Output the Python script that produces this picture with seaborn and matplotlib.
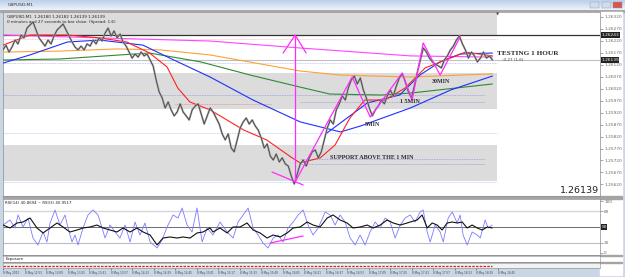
import numpy as np
import pandas as pd
import matplotlib.pyplot as plt
import seaborn as sns
from matplotlib.colors import LinearSegmentedColormap

sns.set_theme(style="white")
plt.rcParams['font.family'] = ['DejaVu Sans']

price = [
    1.26181, 1.26201, 1.26172, 1.26193, 1.26222, 1.26206, 1.26243, 1.26231, 1.26272, 1.26285,
    1.26297, 1.26264, 1.26231, 1.26214, 1.26197, 1.26222, 1.26206, 1.26239, 1.26264, 1.26276,
    1.26289, 1.26264, 1.26239, 1.26214, 1.26193, 1.26181, 1.26197, 1.26181, 1.26206, 1.26197,
    1.26222, 1.26206, 1.26231, 1.26218, 1.26251, 1.26272, 1.26239, 1.26260, 1.26231, 1.26247,
    1.26214, 1.26197, 1.26172, 1.26147, 1.26164, 1.26151, 1.26172, 1.26156, 1.26164, 1.26139,
    1.26114, 1.26056, 1.26006, 1.25981, 1.25939, 1.25964, 1.25931, 1.25906, 1.25922, 1.25956,
    1.25922, 1.25906, 1.25889, 1.25931, 1.25947, 1.25956, 1.25914, 1.25872, 1.25906, 1.25939,
    1.25922, 1.25897, 1.25872, 1.25831, 1.25806, 1.25831, 1.25772, 1.25756, 1.25806, 1.25856,
    1.25881, 1.25897, 1.25872, 1.25889, 1.25864, 1.25847, 1.25814, 1.25772, 1.25789, 1.25739,
    1.25722, 1.25747, 1.25714, 1.25731, 1.25706, 1.25697, 1.25656, 1.25622, 1.25664, 1.25706,
    1.25722, 1.25697, 1.25731, 1.25756, 1.25764, 1.25731, 1.25756, 1.25806, 1.25856, 1.25889,
    1.25872, 1.25931, 1.25956, 1.25989, 1.25972, 1.26022, 1.26056, 1.26072, 1.26039, 1.26064,
    1.26014, 1.25981, 1.25939, 1.25906, 1.25931, 1.25947, 1.25972, 1.25956, 1.25989, 1.26014,
    1.25989, 1.26031, 1.26064, 1.26081, 1.26047, 1.26006, 1.25981, 1.26031, 1.26089, 1.26139,
    1.26189, 1.26172, 1.26147, 1.26131, 1.26122, 1.26114, 1.26106, 1.26139, 1.26156, 1.26181,
    1.26197, 1.26222, 1.26239, 1.26206, 1.26181, 1.26147, 1.26172, 1.26156, 1.26131, 1.26147,
    1.26172, 1.26147, 1.26156, 1.26139,
]
price_min = np.linspace(0, 364, len(price))  # minutes after 12:37

# moving averages (minute, price)
ma_magenta_t = [0, 72, 154, 221, 303, 364]
ma_magenta_v = [1.26243, 1.26231, 1.26218, 1.26189, 1.26156, 1.26151]
ma_orange_t = [0, 42, 85, 117, 154, 221, 251, 303, 364]
ma_orange_v = [1.26172, 1.26176, 1.26185, 1.26181, 1.26160, 1.26093, 1.26076, 1.26068, 1.26081]
ma_green_t = [0, 42, 87, 109, 147, 184, 221, 243, 281, 303, 364]
ma_green_v = [1.26139, 1.26143, 1.26160, 1.26168, 1.26131, 1.26076, 1.26026, 1.25997, 1.25993, 1.26001, 1.26039]
ma_blue_t = [0, 20, 48, 72, 104, 124, 154, 186, 221, 251, 266, 303, 333, 364]
ma_blue_v = [1.26126, 1.26160, 1.26214, 1.26222, 1.26201, 1.26147, 1.26068, 1.25972, 1.25881, 1.25839,
             1.25864, 1.25939, 1.26014, 1.26072]
ma_fast_t = [241, 271, 295, 310, 325, 340, 364]
ma_fast_v = [1.25835, 1.25960, 1.25993, 1.26076, 1.26131, 1.26164, 1.26168]
ma_red_t = [0, 20, 48, 72, 92, 109, 122, 130, 139, 154, 179, 196, 214, 221, 236, 247, 258, 269, 284,
            299, 314, 329, 344, 364]
ma_red_v = [1.26201, 1.26243, 1.26243, 1.26231, 1.26214, 1.26168, 1.26110, 1.26022, 1.25964, 1.25931,
            1.25847, 1.25806, 1.25735, 1.25710, 1.25731, 1.25785, 1.25897, 1.25972, 1.25972, 1.26022,
            1.26106, 1.26139, 1.26172, 1.26156]

# zones and levels
zones = [(1.26243, 1.26339), (1.25935, 1.26085), (1.25635, 1.25785)]
zone_end = 367.6
black_level = 1.26243
bid = 1.26139
dotted_levels = [1.26226, 1.26126, 1.25993, 1.25835, 1.25631]
dotted_colors = ['#ffb4b4', '#b8b8f0', '#9a9ae6', '#b0c4f0', '#b0c4f0']
dotted_ends = [367.6, 367.6, 358.6, 367.6, 367.6]
support_levels = [1.25964, 1.25726, 1.25706]

# magenta drawings
arrow_t = [217.3, 217.3]
arrow_v = [1.25631, 1.26243]
wing_t = [208.3, 217.3, 225.4]
wing_v = [1.26168, 1.26243, 1.26168]
low_t = [200.1, 223.2]
low_v = [1.25672, 1.25618]
zig_t = [217.3, 259.7, 273.1, 296.9, 304.3, 312.5, 325.1, 340.0]
zig_v = [1.25631, 1.26068, 1.25901, 1.26085, 1.25972, 1.26210, 1.26076, 1.26235]

price_ticks = [1.26320, 1.26270, 1.26220, 1.26170, 1.26120, 1.26070, 1.26020, 1.25970,
               1.25920, 1.25870, 1.25820, 1.25770, 1.25720, 1.25670, 1.25620]

# RSI(3) (blue) and RSI(14) (black)
rsi3_t = [0, 5.2, 8.9, 11.2, 14.9, 18.6, 22.3, 26.0, 29.8, 32.7, 35.0, 38.7, 42.4, 46.1, 48.4, 51.3,
          53.6, 55.8, 59.5, 63.2, 67.0, 70.7, 73.7, 75.9, 79.6, 83.3, 87.0, 90.8, 94.5, 98.2, 101.9,
          105.6, 109.4, 114.6, 118.3, 122.0, 126.5, 130.2, 133.2, 136.9, 140.6, 144.3, 148.1, 151.8,
          156.2, 161.4, 166.7, 171.1, 174.8, 178.6, 182.3, 186.0, 189.7, 193.4, 197.2, 200.9, 204.6,
          208.3, 212.0, 215.8, 219.5, 223.2, 226.9, 230.6, 234.4, 239.6, 243.3, 247.0, 250.7, 254.4,
          258.2, 261.9, 265.6, 269.3, 273.0, 276.8, 280.5, 284.2, 287.9, 291.6, 295.4, 299.1, 302.8,
          306.5, 310.2, 312.5, 315.5, 317.7, 321.4, 325.1, 327.4, 331.1, 334.1, 337.8, 340.0, 342.2,
          345.2, 348.9, 352.7, 354.9, 358.6, 360.8, 363.8]
rsi3_v = [53.8, 63.5, 48.1, 73.1, 50.0, 67.3, 28.8, 15.4, 40.4, 21.2, 57.7, 82.7, 53.8, 73.1, 48.1, 21.2,
          34.6, 15.4, 48.1, 73.1, 82.7, 73.1, 48.1, 28.8, 53.8, 40.4, 28.8, 53.8, 21.2, 59.6, 34.6,
          57.7, 21.2, 9.6, 25.0, 50.0, 73.1, 67.3, 86.5, 53.8, 40.4, 86.5, 21.2, 48.1,
          34.6, 59.6, 40.4, 28.8, 59.6, 73.1, 86.5, 48.1, 34.6, 19.2, 9.6, 28.8, 34.6,
          21.2, 48.1, 59.6, 73.1, 82.7, 53.8, 34.6, 48.1, 78.8, 73.1, 53.8, 73.1, 59.6,
          28.8, 15.4, 34.6, 15.4, 40.4, 59.6, 48.1, 67.3, 59.6, 28.8, 53.8, 67.3, 73.1,
          59.6, 78.8, 82.7, 40.4, 21.2, 53.8, 40.4, 21.2, 67.3, 78.8, 57.7, 73.1, 34.6,
          15.4, 40.4, 34.6, 28.8, 63.5, 48.1, 53.8]
rsi14_t = [0, 5.2, 10.4, 14.9, 20.1, 25.3, 29.8, 35.0, 40.2, 44.6, 49.8, 55.1, 59.5, 64.7, 69.9, 74.4,
           79.6, 84.8, 89.3, 94.5, 99.7, 104.2, 109.4, 114.6, 119.0, 124.2, 129.5, 133.9, 139.1, 144.3,
           148.8, 154.0, 156.2, 161.4, 166.7, 171.1, 176.3, 181.5, 186.0, 191.2, 196.4, 200.9, 206.1,
           211.3, 215.8, 221.0, 226.2, 230.6, 235.8, 241.1, 245.5, 250.7, 255.9, 260.4, 265.6, 270.8,
           275.3, 280.5, 285.7, 290.2, 295.4, 300.6, 302.8, 308.0, 311.7, 315.5, 319.2, 322.9, 326.6,
           330.3, 334.1, 337.8, 341.5, 345.2, 348.9, 352.7, 356.4, 360.1, 363.8]
rsi14_v = [53.8, 48.1, 57.7, 59.6, 67.3, 48.1, 38.5, 48.1, 57.7, 50.0, 40.4, 44.2, 48.1, 50.0, 53.8, 48.1,
           44.2, 40.4, 48.1, 40.4, 48.1, 40.4, 34.6, 15.4, 28.8, 30.8, 28.8, 30.8, 28.8, 38.5,
           40.4, 48.1, 40.4, 48.1, 38.5, 50.0, 50.0, 57.7, 44.2, 38.5, 28.8, 34.6, 30.8,
           38.5, 48.1, 50.0, 59.6, 53.8, 50.0, 67.3, 73.1, 63.5, 57.7, 48.1, 50.0, 53.8,
           48.1, 53.8, 63.5, 57.7, 53.8, 57.7, 59.6, 63.5, 73.1, 48.1, 57.7, 53.8, 44.2,
           57.7, 59.6, 57.7, 59.6, 48.1, 53.8, 48.1, 44.2, 50.0, 48.1]
rsi_levels = [80, 50, 20]
rsi_ticks = [100, 80, 20, 0]
rsi_div_t = [198.7, 223.2]
rsi_div_v = [19.2, 32.7]

time_ticks = [0, 16, 32, 48, 64, 80, 96, 112, 128, 144, 160, 176, 192, 208, 224, 240, 256, 272,
              288, 304, 320, 336, 352, 368]
time_labels = ['8 May 2023', '8 May 12:53', '8 May 13:09', '8 May 13:25', '8 May 13:41', '8 May 13:57',
               '8 May 14:13', '8 May 14:29', '8 May 14:45', '8 May 15:01', '8 May 15:17', '8 May 15:33',
               '8 May 15:49', '8 May 16:05', '8 May 16:21', '8 May 16:37', '8 May 16:53', '8 May 17:09',
               '8 May 17:25', '8 May 17:41', '8 May 17:57', '8 May 18:13', '8 May 18:29', '8 May 18:45']

W, H = 625, 277
XMAX = 444


def box(x0, y0, x1, y1):
    return [x0 / W, 1 - y1 / H, (x1 - x0) / W, (y1 - y0) / H]


def strip(x0, y0, x1, y1, color):
    fig.patches.append(plt.Rectangle((x0 / W, 1 - y1 / H), (x1 - x0) / W, (y1 - y0) / H,
                                     transform=fig.transFigure, color=color, zorder=-1))


def line(ax, t, v, color, lw, z=3, ls='-'):
    sns.lineplot(x=t, y=v, ax=ax, color=color, linewidth=lw, linestyle=ls,
                 estimator=None, sort=False, legend=False, zorder=z)


fig = plt.figure(figsize=(W / 100, H / 100), dpi=100, facecolor='#c9d6e6')
strip(0, 10, 625, 12, '#a8a8a8')
strip(600, 12, 622, 275, 'white')
strip(3, 196, 622, 199, '#a4a4a4')
strip(3, 255, 622, 256, '#a4a4a4')
strip(3, 262, 622, 263, '#a4a4a4')

# window title bar
bar = fig.add_axes(box(0, 0, 625, 10))
grad = LinearSegmentedColormap.from_list('tb', ['#bcd0e8', '#eef3fa'])
bar.imshow(np.linspace(0, 1, 20).reshape(-1, 1), aspect='auto', cmap=grad, extent=[0, 1, 0, 1])
bar.set_xlim(0, 1)
bar.set_ylim(0, 1)
bar.set_axis_off()
bar.text(0.012, 0.5, 'GBPUSD,M1', fontsize=3.2, va='center', color='#333333')
for bx, bc in [(590, '#cfdcec'), (602, '#cfdcec'), (613, '#d9534f')]:
    bar.add_patch(plt.Rectangle((bx / W, 0.2), 9 / W, 0.6, fc=bc, ec='#8899aa', lw=0.3))

# main price window
ax = fig.add_axes(box(3, 12, 600, 196))
ax.set_facecolor('white')
ax.set_xlim(0, XMAX)
ax.set_ylim(1.25572, 1.26339)
for lo, hi in zones:
    ax.axhspan(lo, hi, xmin=0, xmax=zone_end / XMAX, color='#dcdcdc', lw=0, zorder=0)
for lv, c, e in zip(dotted_levels, dotted_colors, dotted_ends):
    ax.hlines(lv, 0, e, colors=c, linestyles=(0, (1, 1)), lw=0.6, zorder=1)
ax.hlines(support_levels, 221, 358.6, colors='#9a9ae6', linestyles=(0, (1, 1)), lw=0.6, zorder=1)
ax.hlines(1.25956, 128, 199, colors='#ff8080', linestyles=(0, (1, 1)), lw=0.6, zorder=1)
ax.axhline(black_level, color='#333333', lw=0.9, zorder=2)
ax.axhline(bid, color='#c0c0c0', lw=0.8, zorder=2)

line(ax, ma_magenta_t, ma_magenta_v, '#ff44ff', 0.8)
line(ax, ma_orange_t, ma_orange_v, '#ffa033', 0.8)
line(ax, ma_green_t, ma_green_v, '#2f8a2f', 0.8)
line(ax, ma_blue_t, ma_blue_v, '#1f2fff', 0.8)
line(ax, ma_fast_t, ma_fast_v, '#1f2fff', 0.8)
line(ax, ma_red_t, ma_red_v, '#ff2222', 0.8)
line(ax, price_min, price, '#a0a0a0', 1.4, z=4)
line(ax, price_min, price, '#333333', 0.45, z=5)

mag = '#ff2bff'
line(ax, arrow_t, arrow_v, mag, 0.9, z=6)
line(ax, wing_t, wing_v, mag, 0.9, z=6)
line(ax, low_t, low_v, mag, 0.9, z=6)
line(ax, zig_t, zig_v, mag, 0.9, z=6)

serif = dict(family='Liberation Serif', weight='bold', color='#2b2b2b')
ax.text(367.6, 1.26164, 'TESTING 1 HOUR', fontsize=5.2, va='center', ha='left', zorder=7, **serif)
ax.text(371.2, 1.26139, '-0.27 (1.6)', fontsize=3, va='center', ha='left', color='#444444', zorder=7)
ax.text(319.2, 1.26051, '30MIN', fontsize=4.3, va='center', ha='left', zorder=7, **serif)
ax.text(295.4, 1.25968, '1 5MIN', fontsize=4.3, va='center', ha='left', zorder=7, **serif)
ax.text(269.3, 1.25868, '5MIN', fontsize=4.3, va='center', ha='left', zorder=7, **serif)
ax.text(243.3, 1.25731, 'SUPPORT ABOVE THE 1 MIN', fontsize=4.4, va='center', ha='left', zorder=7, **serif)
ax.text(0.998, 0.03, '1.26139', transform=ax.transAxes, fontsize=6.8, ha='right', va='center',
        color='#222222', zorder=7)
ax.text(0.007, 0.985, 'GBPUSD,M1  1.26180 1.26182 1.26139 1.26139', transform=ax.transAxes,
        fontsize=3, ha='left', va='top', color='#222222')
ax.text(0.007, 0.955, '0 minutes and 27 seconds to bar close. (Spread: 1.6)', transform=ax.transAxes,
        fontsize=3, ha='left', va='top', color='#222222')
ax.text(367.6, 1.0, '\u25bc', transform=ax.get_xaxis_transform(), fontsize=3, ha='center', va='top',
        color='#555555')

ax.tick_params(axis='x', bottom=False, labelbottom=False)
ax.yaxis.tick_right()
ax.set_yticks(price_ticks)
ax.set_yticklabels([f'{p:.5f}' for p in price_ticks])
ax.tick_params(axis='y', right=True, length=2, width=0.4, pad=1, labelsize=3.1, colors='#666666')
for p in [black_level, bid]:
    ax.text(1.002, p, f'{p:.5f}', transform=ax.get_yaxis_transform(), fontsize=3.1, color='white',
            va='center', ha='left', clip_on=False, zorder=8,
            bbox=dict(boxstyle='square,pad=0.15', fc='#222222', ec='none'))
for s in ax.spines.values():
    s.set_color('#8c8c8c')
    s.set_linewidth(0.5)

# RSI window
ax2 = fig.add_axes(box(3, 199, 600, 255))
ax2.set_facecolor('white')
ax2.set_xlim(0, XMAX)
ax2.set_ylim(-3.85, 103.85)
ax2.axhline(rsi_levels[0], color='#d6d6d6', lw=1.0, zorder=1)
ax2.axhline(rsi_levels[1], color='#555555', lw=0.6, zorder=1)
ax2.axhline(rsi_levels[2], color='#bdbdbd', lw=0.8, zorder=1)
line(ax2, rsi3_t, rsi3_v, '#7a7aff', 0.6)
line(ax2, rsi14_t, rsi14_v, '#111111', 0.8, z=4)
line(ax2, rsi_div_t, rsi_div_v, mag, 0.9, z=5)
ax2.text(0.004, 0.96, 'RSI(14) 40.8694 ~ RSI(3) 40.9517', transform=ax2.transAxes, fontsize=2.8,
         ha='left', va='top', color='#222222')
ax2.tick_params(axis='x', bottom=False, labelbottom=False)
ax2.yaxis.tick_right()
ax2.set_yticks(rsi_ticks)
ax2.set_yticklabels([str(v) for v in rsi_ticks])
ax2.tick_params(axis='y', right=True, length=2, width=0.4, pad=1, labelsize=3.1, colors='#666666')
ax2.text(1.002, rsi_levels[1], '50', transform=ax2.get_yaxis_transform(), fontsize=3.1, color='white',
         va='center', ha='left', clip_on=False, bbox=dict(boxstyle='square,pad=0.15', fc='#222222', ec='none'))
for s in ax2.spines.values():
    s.set_color('#8c8c8c')
    s.set_linewidth(0.5)

# exposure window
ax3 = fig.add_axes(box(3, 256, 600, 262))
ax3.set_facecolor('white')
ax3.set_xlim(0, XMAX)
ax3.set_xticks([])
ax3.set_yticks([])
ax3.text(0.004, 0.5, 'Exposure', transform=ax3.transAxes, fontsize=2.8, ha='left', va='center',
         color='#222222')
for s in ax3.spines.values():
    s.set_color('#8c8c8c')
    s.set_linewidth(0.4)

# time axis strip with the hidden indicator line
ax4 = fig.add_axes(box(3, 263, 600, 268))
ax4.set_facecolor('#f2f2f2')
ax4.set_xlim(0, XMAX)
ax4.set_ylim(0, 1)
ax4.hlines(0.45, 0, 364, colors='#e02020', linestyles=(0, (2, 1)), lw=0.9)
ax4.set_yticks([])
ax4.set_xticks(time_ticks)
ax4.set_xticklabels(time_labels)
ax4.tick_params(axis='x', bottom=True, length=1.5, width=0.4, pad=0.8, labelsize=2.0, colors='#444444')
for lbl in ax4.get_xticklabels():
    lbl.set_ha('left')
for s in ax4.spines.values():
    s.set_color('#8c8c8c')
    s.set_linewidth(0.4)

fig.savefig('out.png', dpi=100, facecolor=fig.get_facecolor())
